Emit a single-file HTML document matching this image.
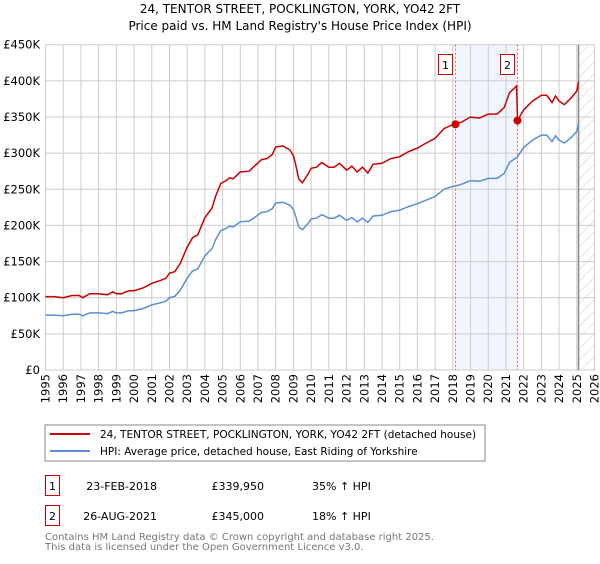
<!DOCTYPE html>
<html><head><meta charset="utf-8"><style>
body{margin:0;background:#fff;font-family:"DejaVu Sans","Liberation Sans",sans-serif;}
svg text{font-family:"DejaVu Sans","Liberation Sans",sans-serif;}
</style></head><body>
<svg id="chart" width="600" height="560" xmlns="http://www.w3.org/2000/svg">
<defs><pattern id="hatch" width="8" height="8" patternUnits="userSpaceOnUse" patternTransform="rotate(45)"><line x1="0" y1="0" x2="0" y2="8" stroke="#ccc" stroke-width="1"/></pattern></defs>
<text x="300" y="13" text-anchor="middle" font-size="12">24, TENTOR STREET, POCKLINGTON, YORK, YO42 2FT</text>
<text x="300" y="30" text-anchor="middle" font-size="12">Price paid vs. HM Land Registry's House Price Index (HPI)</text>
<g id="grid"></g><g id="marks"></g>
<rect x="45" y="425" width="440" height="36" fill="#fff" stroke="#888"/>
<line x1="50" y1="434" x2="90" y2="434" stroke="#cc0000" stroke-width="2"/>
<text x="100" y="438" font-size="10.5">24, TENTOR STREET, POCKLINGTON, YORK, YO42 2FT (detached house)</text>
<line x1="50" y1="451" x2="90" y2="451" stroke="#5b8fd4" stroke-width="2"/>
<text x="100" y="455" font-size="10.5">HPI: Average price, detached house, East Riding of Yorkshire</text>
<g>
<rect x="45.5" y="475.5" width="14" height="20" fill="#fff" stroke="#cc0000"/>
<text x="52.5" y="490" font-size="11" text-anchor="middle">1</text>
<text x="157" y="490" font-size="11" text-anchor="end">23-FEB-2018</text>
<text x="264" y="490" font-size="11" text-anchor="end">£339,950</text>
<text x="312" y="490" font-size="11">35% ↑ HPI</text></g>
<g>
<rect x="45.5" y="505.5" width="14" height="20" fill="#fff" stroke="#cc0000"/>
<text x="52.5" y="520" font-size="11" text-anchor="middle">2</text>
<text x="157" y="520" font-size="11" text-anchor="end">26-AUG-2021</text>
<text x="264" y="520" font-size="11" text-anchor="end">£345,000</text>
<text x="312" y="520" font-size="11">18% ↑ HPI</text></g>
<text x="45" y="540" font-size="10" fill="#777">Contains HM Land Registry data © Crown copyright and database right 2025.</text>
<text x="45" y="550" font-size="10" fill="#777">This data is licensed under the Open Government Licence v3.0.</text>
</svg>
<script>
const dates=[1995.0,1995.5,1996.0,1996.5,1996.9,1997.1,1997.5,1998.0,1998.5,1998.8,1999.0,1999.3,1999.7,2000.0,2000.5,2001.0,2001.5,2001.8,2002.0,2002.3,2002.6,2003.0,2003.3,2003.6,2004.0,2004.4,2004.6,2004.9,2005.2,2005.4,2005.6,2006.0,2006.5,2006.8,2007.2,2007.5,2007.8,2008.0,2008.4,2008.8,2009.0,2009.1,2009.3,2009.5,2009.8,2010.0,2010.3,2010.6,2011.0,2011.3,2011.6,2012.0,2012.3,2012.6,2012.9,2013.2,2013.5,2014.0,2014.5,2015.0,2015.5,2016.0,2016.5,2017.0,2017.5,2018.0,2018.15,2018.5,2019.0,2019.5,2020.0,2020.5,2020.9,2021.2,2021.6,2021.65,2022.0,2022.5,2023.0,2023.3,2023.6,2023.8,2024.0,2024.3,2024.7,2025.0,2025.1];
const hpiValues=[76,76,75,77,77,75,79,79,78,81,79,79,82,82,85,90,93,95,100,102,110,127,137,140,158,168,180,193,196,199,198,205,206,211,218,219,223,231,232,228,222,215,198,194,202,209,210,215,210,210,214,207,211,205,210,204,213,214,219,221,226,230,235,240,250,254,254.5,257,262,261,265,265,272,287,294,295,308,318,325,325,316,324,318,314,322,330,341];
const propertyValues=[101.5,101.5,100,103,103,100,105.5,105.5,104,108,105.5,105.5,109.5,109.5,113.5,120,124,127,134,136,147,170,183,187,211,224,240,258,262,266,264.5,274,275,282,291,292.5,298,308.5,310,304.5,296.5,287,264.5,259,270,279,280.5,287,280.5,280.5,286,276.5,282,274,280.5,272.5,284.5,286,292.5,295,302,307,314,320.5,334,339.5,340,343,350,348.5,354,354,363,383.5,392.8,345,360,372,380,380,370,379,372,367,377,386,399];
const saleDates=[2018.15,2021.65];
const salePrices=[339.95,345];
const saleLabels=["1","2"];
const yTicks=[0,50,100,150,200,250,300,350,400,450];
const yTickLabels=["£0","£50K","£100K","£150K","£200K","£250K","£300K","£350K","£400K","£450K"];
const xTicks=[1995,1996,1997,1998,1999,2000,2001,2002,2003,2004,2005,2006,2007,2008,2009,2010,2011,2012,2013,2014,2015,2016,2017,2018,2019,2020,2021,2022,2023,2024,2025,2026];
const X0=45.5,X1=594.5,Y0=370,Y1=44.7;
const xs=d=>X0+(d-1995)/31*(X1-X0);
const ys=v=>Y0-v/450*(Y0-Y1);
const NS="http://www.w3.org/2000/svg";
const grid=document.getElementById('grid'),marks=document.getElementById('marks');
function mk(tag,attrs,parent){const e=document.createElementNS(NS,tag);for(const k in attrs)e.setAttribute(k,attrs[k]);parent.appendChild(e);return e;}
let r=mk('rect',{x:xs(saleDates[0]),y:Y1,width:xs(saleDates[1])-xs(saleDates[0]),height:Y0-Y1,fill:'#eef3fc',opacity:0.8},grid);


let h=mk('rect',{x:xs(2025.1),y:Y1,width:X1-xs(2025.1),height:Y0-Y1,fill:'url(#hatch)'},grid);


yTicks.forEach((t,i)=>{
 const l=mk('line',{x1:X0,x2:X1,y1:ys(t),y2:ys(t),stroke:'#ccc'},grid);
 
 
 const tx=mk('text',{x:40,y:ys(t)+4,'text-anchor':'end','font-size':'11.5'},grid);
 tx.textContent=yTickLabels[i];
 
 
});
xTicks.forEach(t=>{
 const l=mk('line',{x1:xs(t),x2:xs(t),y1:Y1,y2:Y0,stroke:'#ccc'},grid);
 
 
 const tx=mk('text',{x:0,y:0,'text-anchor':'end','font-size':'11.5',transform:`translate(${xs(t)+4},374) rotate(-90)`},grid);
 tx.textContent=t;
 
 
});
const vl=mk('line',{x1:xs(2025.1),x2:xs(2025.1),y1:Y1,y2:Y0,stroke:'#888','stroke-width':1.5},grid);


saleDates.forEach((d,i)=>{
 const l=mk('line',{x1:xs(d),x2:xs(d),y1:Y1,y2:Y0,stroke:'#f06060','stroke-dasharray':'2,2'},marks);
 
 
 const b=mk('rect',{x:xs(d)-17,y:54.5,width:14,height:20,fill:'#fff',stroke:'#cc0000'},marks);
 
 
 const t=mk('text',{x:xs(d)-10,y:69,'text-anchor':'middle','font-size':'11'},marks);
 t.textContent=saleLabels[i];
 
 
});
const pts=v=>dates.map((d,i)=>xs(d).toFixed(1)+','+ys(v[i]).toFixed(1)).join(' ');
const hl=mk('polyline',{points:pts(hpiValues),fill:'none',stroke:'#5b8fd4','stroke-width':1.5},marks);


const pl=mk('polyline',{points:pts(propertyValues),fill:'none',stroke:'#cc0000','stroke-width':1.5},marks);


saleDates.forEach((d,i)=>{
 const c=mk('circle',{cx:xs(d),cy:ys(salePrices[i]),r:4,fill:'#cc0000'},marks);
 
 
});
</script>
</body></html>
